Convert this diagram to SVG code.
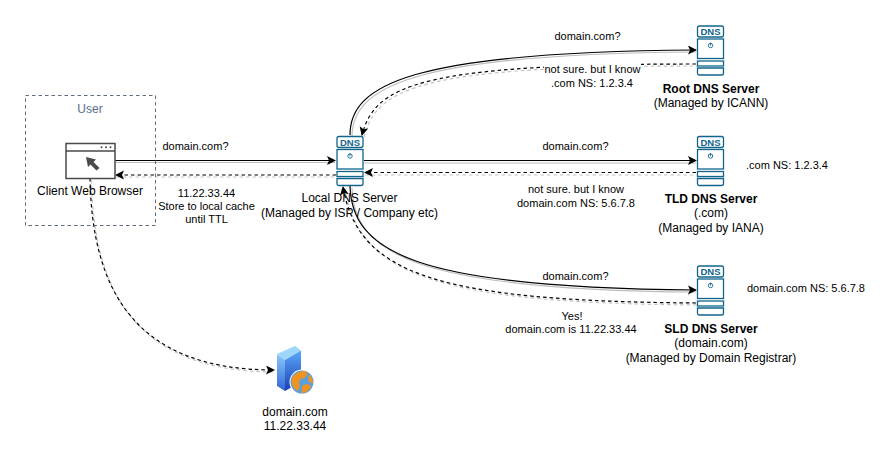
<svg xmlns="http://www.w3.org/2000/svg" width="892" height="460" viewBox="0 0 892 460">
<style>
text{font-family:"Liberation Sans",Arial,sans-serif;font-size:11px;fill:#000;text-anchor:middle}
.b{font-weight:bold;font-size:12px}
.n{font-size:12px}
.solid{fill:none;stroke:#000;stroke-width:1.2;marker-end:url(#a)}
.dash{fill:none;stroke:#000;stroke-width:1.2;stroke-dasharray:3.5 3;marker-end:url(#a)}
.shs{fill:none;stroke:#bdbdbd;stroke-width:1.2}
.shd{fill:none;stroke:#c4c4c4;stroke-width:1.2;stroke-dasharray:3.5 3}
.ic{fill:#fff;stroke:#10648c;stroke-width:1.3}
.dt{font-size:9.5px;font-weight:bold;fill:#10648c}
</style>
<defs>
<marker id="a" markerWidth="10" markerHeight="10" refX="8" refY="4.5" orient="auto" markerUnits="userSpaceOnUse"><path d="M0 0L9 4.5L0 9L2 4.5Z" fill="#000"/></marker>
<symbol id="dns" overflow="visible">
<rect class="ic" x="0.5" y="0.5" width="26" height="11" rx="2"/>
<text class="dt" x="13.5" y="9.5">DNS</text>
<rect class="ic" x="0.5" y="13.5" width="26" height="19.5"/>
<circle cx="13.5" cy="20" r="2.2" fill="none" stroke="#10648c" stroke-width="0.9"/>
<path d="M13.5 17.3V20" stroke="#10648c" stroke-width="0.9"/>
<rect class="ic" x="0.5" y="35.5" width="26" height="5"/>
<path class="ic" d="M0.5 42.5H26.5V47.5Q26.5 49.500 24.5 49.5H2.5Q0.5 49.5 0.5 47.5Z"/>
</symbol>
<linearGradient id="sv" x1="0" y1="0" x2="0" y2="1"><stop offset="0" stop-color="#5aa8fa"/><stop offset="1" stop-color="#1c3fb4"/></linearGradient>
<linearGradient id="svs" x1="0" y1="0" x2="0" y2="1"><stop offset="0" stop-color="#8cc8fb"/><stop offset="1" stop-color="#2f66d8"/></linearGradient>
</defs>
<g id="connectors">
<path class="shs" d="M115 162.500H335"/>
<path class="shd" d="M116 177H336"/>
<path class="shs" d="M364 163H696"/>
<path class="shd" d="M365 175H696"/>
<path class="shs" d="M352 137C352 87 412 54 696 52"/>
<path class="shd" d="M364 137C377 87 422 66 698 66"/>
<path class="shs" d="M352 188C354 252 412 290 696 292"/>
<path class="shd" d="M345 189C360 277 442 303 698 305"/>
<path class="shd" d="M91.500 180C93.500 292 136.500 372 275 372"/>
<path class="solid" d="M115 160.500H335"/>
<path class="dash" d="M336 175H116"/>
<path class="solid" d="M364 160.500H696"/>
<path class="dash" d="M696 172.500H365"/>
<path class="solid" d="M350 135C350 85 410 52 696 50"/>
<path class="dash" d="M696 64C420 64 375 85 362 135"/>
<path class="solid" d="M350 186C352 250 410 288 696 290"/>
<path class="dash" d="M696 303C440 301 358 275 343 187"/>
<path class="dash" d="M90 178C92 290 135 370 274 370"/>
</g>
<g id="user-group">
<rect x="25.500" y="95.500" width="130" height="130" fill="none" stroke="#4d5c6e" stroke-width="0.9" stroke-dasharray="3.500 3"/>
<text x="90" y="112.500" style="font-size:12px;fill:#5a6f8c">User</text>
</g>
<g id="client-browser">
<rect x="66" y="143.500" width="49" height="35" fill="#fff" stroke="#4a4a4a" stroke-width="1.500"/>
<path d="M66 151H115" stroke="#4a4a4a" stroke-width="1.300"/>
<circle cx="101.500" cy="147.300" r="1" fill="#4a4a4a"/><circle cx="106" cy="147.300" r="1" fill="#4a4a4a"/><circle cx="110.500" cy="147.300" r="1" fill="#4a4a4a"/>
<path d="M86 157L96 159.500L93.500 162L99.500 168L96.500 170.500L90.500 164.500L88 167Z" fill="#4a4a4a"/>
<text class="n" x="90" y="195">Client Web Browser</text>
</g>
<g id="local-dns">
<use href="#dns" x="336.500" y="136"/>
<text class="n" x="349.500" y="202">Local DNS Server</text>
<text class="n" x="349.500" y="217">(Managed by ISP / Company etc)</text>
</g>
<g id="root-dns">
<use href="#dns" x="697" y="25.500"/>
<text class="b" x="711" y="93">Root DNS Server</text>
<text class="n" x="711" y="107">(Managed by ICANN)</text>
</g>
<g id="tld-dns">
<use href="#dns" x="697" y="136"/>
<text class="b" x="711" y="203">TLD DNS Server</text>
<text class="n" x="711" y="217">(.com)</text>
<text class="n" x="711" y="232">(Managed by IANA)</text>
</g>
<g id="sld-dns">
<use href="#dns" x="697" y="265.500"/>
<text class="b" x="711" y="333">SLD DNS Server</text>
<text class="n" x="711" y="347">(domain.com)</text>
<text class="n" x="711" y="362">(Managed by Domain Registrar)</text>
</g>
<g id="web-server">
<path d="M277 354L295 346L301 350.500L285 360Z" fill="#9fd6fb"/>
<path d="M277 354L285 360V391L277 386Z" fill="url(#svs)"/>
<path d="M285 360L301 350.500V382L285 391Z" fill="url(#sv)"/>
<circle cx="302" cy="382" r="12.500" fill="#fff"/>
<circle cx="302" cy="382" r="11.500" fill="#5aa0e0"/>
<path d="M292 377Q298 370 306 371Q309 375 304 378Q299 379 299 383Q301 388 297 391Q290 385 292 377ZM309 374Q313 378 313 384L308 381Z M303 385Q310 383 311 387Q307 393 302 393Q301 388 303 385Z" fill="#ee9420"/>
<text class="n" x="295" y="416">domain.com</text>
<text class="n" x="295" y="430">11.22.33.44</text>
</g>
<g id="labels">
<text x="195.500" y="150">domain.com?</text>
<text x="206.500" y="197">11.22.33.44</text>
<text x="206.500" y="210">Store to local cache</text>
<text x="206.500" y="223">until TTL</text>
<text x="587.500" y="40">domain.com?</text>
<rect x="544" y="62" width="97" height="28" fill="#fff"/>
<text x="592.500" y="73">not sure. but I know</text>
<text x="592" y="87">.com NS: 1.2.3.4</text>
<text x="575.500" y="150">domain.com?</text>
<text x="576" y="193">not sure. but I know</text>
<text x="576" y="207">domain.com NS: 5.6.7.8</text>
<text x="575.500" y="280">domain.com?</text>
<text x="572" y="320">Yes!</text>
<text x="571" y="333">domain.com is 11.22.33.44</text>
<text x="787" y="169">.com NS: 1.2.3.4</text>
<text x="806" y="292">domain.com NS: 5.6.7.8</text>
</g>
</svg>
